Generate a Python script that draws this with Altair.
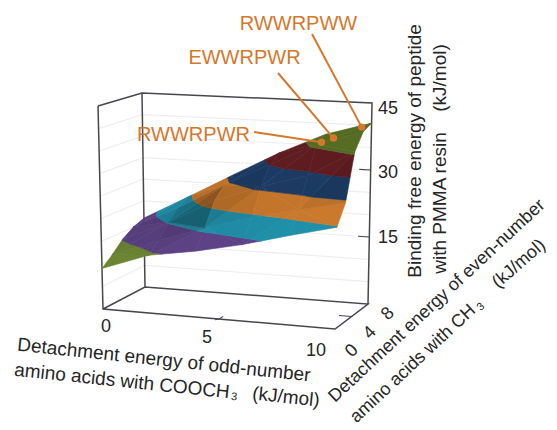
import altair as alt
import math
import pandas as pd

# ---------- data: surface values (kJ/mol) ----------
odd_nodes = [0, 2, 4, 6, 8, 10]
even_nodes = [0, 2, 4, 6, 8]
binding_y0 = [9.0, 12.7, 14.4, 16.6, 19.3, 21.8]
binding_y2 = [11.0, 14.9, 18.4, 21.4, 23.8, 26.0]
binding_y4 = [13.4, 17.9, 23.4, 27.2, 30.2, 36.0]
binding_y6 = [15.0, 20.2, 25.9, 31.2, 36.2, 39.5]
binding_y8 = [16.0, 21.6, 27.3, 32.8, 37.5, 40.5]
binding_rows = [binding_y0, binding_y2, binding_y4, binding_y6, binding_y8]

band_levels = [13.2, 17.7, 22.0, 26.5, 31.0, 35.5]
band_colors = ["#6f8a35", "#5f4488", "#2190aa", "#cb7a2e", "#1d3d66", "#611d22", "#566e24"]

peptide_names = ["RWWRPWW", "EWWRPWR", "RWWRPWR"]
peptide_odd = [9.57, 8.62, 8.13]
peptide_even = [8.0, 6.55, 6.4]
peptide_bind = [39.5, 37.5, 36.5]

odd_ticks = [0, 5, 10]
even_ticks = [0, 4, 8]
bind_ticks = [15, 30, 45]
grid_levels = [5, 10, 15, 20, 25, 30, 35, 40]

# ---------- layout: box corners of the 3-D frame on the page ----------
CORNERS = {
    (0, 0, 0): (103, 309), (1, 0, 0): (335, 329),
    (0, 1, 0): (145, 287), (1, 1, 0): (368, 304),
    (0, 0, 1): (98, 106), (1, 0, 1): (339, 119),
    (0, 1, 1): (142, 93), (1, 1, 1): (372, 103),
}
INK = "#262626"
FRAME = "#45474c"
ORANGE = "#d5782c"


def project(a, b, c):
    u, v, w = a / 10, b / 8, c / 45
    px = py = 0.0
    for (i, j, k), (cx, cy) in CORNERS.items():
        f = (u if i else 1 - u) * (v if j else 1 - v) * (w if k else 1 - w)
        px += f * cx
        py += f * cy
    return px, py


def clip(poly, level, keep_above):
    out = []
    for n, p in enumerate(poly):
        q = poly[(n + 1) % len(poly)]
        pin = (p[2] >= level) if keep_above else (p[2] <= level)
        qin = (q[2] >= level) if keep_above else (q[2] <= level)
        if pin:
            out.append(p)
        if pin != qin:
            t = (level - p[2]) / (q[2] - p[2])
            out.append((p[0] + t * (q[0] - p[0]), p[1] + t * (q[1] - p[1]), level))
    return out


def shaded(hex_color, f):
    r, g, b = [int(hex_color[i:i + 2], 16) for i in (1, 3, 5)]
    return "#%02x%02x%02x" % (int(r * f), int(g * f), int(b * f))


# ---------- build surface polygons ----------
rows = []
pid = 0
for j in range(len(even_nodes) - 1):
    for i in range(len(odd_nodes) - 1):
        P = lambda a, b: (odd_nodes[a], even_nodes[b], binding_rows[b][a])
        p00, p10, p01, p11 = P(i, j), P(i + 1, j), P(i, j + 1), P(i + 1, j + 1)
        tris = [(p00, p10, p11), (p00, p11, p01)] if (i + j) % 2 else [(p00, p10, p01), (p10, p11, p01)]
        for tri in tris:
            ax = tri[1][0] - tri[0][0]; ay = tri[1][1] - tri[0][1]; az = tri[1][2] - tri[0][2]
            bx = tri[2][0] - tri[0][0]; by = tri[2][1] - tri[0][1]; bz = tri[2][2] - tri[0][2]
            nx = ay * bz - az * by
            ny = az * bx - ax * bz
            nz = ax * by - ay * bx
            zx, zy = -nx / nz, -ny / nz
            cx = sum(p[0] for p in tri) / 3
            cy = sum(p[1] for p in tri) / 3
            weight = math.exp(-((cx - 3.2) / 2.3) ** 2 - ((cy - 3.8) / 2.3) ** 2)
            steep = max(0.0, min(1.0, (zx - 1.7) / 1.2))
            f = 1 - 0.36 * weight * (0.45 + 0.55 * steep) - 0.07 * min(1.0, abs(zy - 2.0) / 3)
            lows = [-1e9] + band_levels
            highs = band_levels + [1e9]
            for lo, hi, col in zip(lows, highs, band_colors):
                poly = clip(clip(list(tri), lo, True), hi, False)
                if len(poly) < 3:
                    continue
                c = shaded(col, f)
                for s, pt in enumerate(poly):
                    px, py = project(*pt)
                    rows.append(dict(x=px, y=py, pid=pid, seq=s, c=c))
                pid += 1
surface = pd.DataFrame(rows)


def segs(paths):
    out = []
    for n, path in enumerate(paths):
        for s, (px, py) in enumerate(path):
            out.append(dict(x=px, y=py, pid=n, seq=s))
    return pd.DataFrame(out)


grid_paths = []
for z in grid_levels:
    grid_paths.append([project(0, 0, z), project(0, 8, z), project(10, 8, z)])

frame_paths = [
    [project(0, 0, 45), project(0, 0, 0), project(10, 0, 0), project(10, 8, 0), project(0, 8, 0), project(0, 0, 0)],
    [project(0, 0, 45), project(0, 8, 45), project(10, 8, 45), project(10, 8, 0)],
    [project(0, 8, 45), project(0, 8, 0)],
]

tick_paths = [[project(5, 0, 0), project(5, 0.9, 0)], [project(5, 0, 0), project(4.9, -0.35, 0)]]
tick_paths += [[project(10, 4, 0), project(9.45, 4, 0)]]
for z in bind_ticks[:2]:
    tick_paths.append([project(10, 8, z), project(9.5, 8, z)])

PLOT_W, PLOT_H = 541, 420
X = alt.X("x:Q", scale=alt.Scale(domain=[8, 8 + PLOT_W], range=[0, PLOT_W], nice=False, zero=False), axis=None)
Y = alt.Y("y:Q", scale=alt.Scale(domain=[8 + PLOT_H, 8], range=[PLOT_H, 0], nice=False, zero=False), axis=None)


def lines(df, color, width):
    return alt.Chart(df).mark_line(color=color, strokeWidth=width).encode(
        x=X, y=Y, detail="pid:N", order="seq:Q")


surface_layer = alt.Chart(surface).mark_line(strokeWidth=0.6, interpolate="linear-closed").encode(
    x=X, y=Y, detail="pid:N", order="seq:Q",
    fill=alt.Fill("c:N", scale=None), stroke=alt.Stroke("c:N", scale=None))


def text(rows_, font, size, color=INK):
    df = pd.DataFrame(rows_, columns=["label", "x", "y", "a"])
    return alt.Chart(df).mark_text(font=font, fontSize=size, color=color, align="center", baseline="middle").encode(
        x=X, y=Y, text="label:N", angle=alt.Angle("a:Q", scale=None))


SANS = "Liberation Sans"

titles = text([
    ["Detachment energy of odd-number", 164, 360, 6],
    ["amino acids with COOCH", 122, 381, 6],
    ["(kJ/mol)", 286, 397, 6],
    ["Binding free energy of peptide", 415, 151, 270],
    ["with PMMA resin", 440, 203, 270],
    ["(kJ/mol)", 440, 78, 270],
], SANS, 19)
side_titles = text([
    ["Detachment energy of even-number", 437, 301, 317],
    ["amino acids with CH", 413, 364, 317],
    ["(kJ/mol)", 519, 264, 319],
], SANS, 18)
subs = text([["3", 234, 397, 6], ["3", 481, 307, 317]], SANS, 11)

tick_labels = text([
    [str(odd_ticks[0]), 106, 327, 0],
    [str(odd_ticks[1]), 207, 338, 0],
    [str(odd_ticks[2]), 316, 351, 0],
    [str(even_ticks[0]), 352, 351, 315],
    [str(even_ticks[1]), 370, 333, 315],
    [str(even_ticks[2]), 388, 314, 315],
    [str(bind_ticks[0]), 388, 238, 0],
    [str(bind_ticks[1]), 388, 173, 0],
    [str(bind_ticks[2]), 388, 109, 0],
], SANS, 18)

pep_labels = text([
    [peptide_names[0], 298.5, 24, 0],
    [peptide_names[1], 244.5, 58, 0],
    [peptide_names[2], 193.5, 135, 0],
], SANS, 20, ORANGE)

dots = [project(a, b, c) for a, b, c in zip(peptide_odd, peptide_even, peptide_bind)]
leader_starts = [(312, 34), (278, 73), (254, 132)]
leaders = segs([[s, d] for s, d in zip(leader_starts, dots)])
dot_df = pd.DataFrame(dots, columns=["x", "y"])
dot_layer = alt.Chart(dot_df).mark_circle(size=55, color=ORANGE, opacity=1).encode(x=X, y=Y)

chart = alt.layer(
    lines(segs(grid_paths), "#eeeeee", 1.2),
    lines(segs(frame_paths), FRAME, 1.5),
    surface_layer,
    lines(segs(tick_paths), FRAME, 1.1),
    lines(leaders, ORANGE, 2),
    dot_layer,
    titles, side_titles, subs, tick_labels, pep_labels,
).properties(
    width=PLOT_W, height=PLOT_H, padding=0,
    autosize=alt.AutoSizeParams(type="none"),
    background="white",
).configure_view(stroke=None)

chart.save("out.html", embed_options={"renderer": "svg", "actions": False})
